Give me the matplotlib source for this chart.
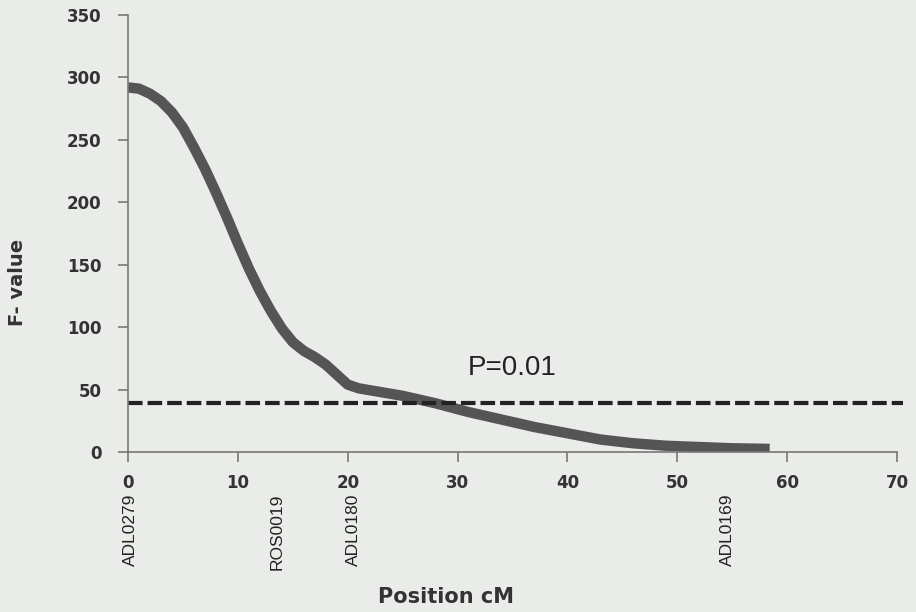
import matplotlib.pyplot as plt

# F-value profile along the chromosome
position_cm = [0, 1, 2, 3, 4, 5, 6, 7, 8, 9, 10, 11, 12, 13, 14, 15, 16, 17,
               18, 19, 20, 21, 23, 25, 28, 31, 34, 37, 40, 43, 46, 49, 52, 55, 58.4]
f_value = [292, 291, 287, 281, 272, 260, 244, 227, 208, 188, 167, 147, 129,
           113, 99, 88, 81, 76, 70, 62, 54, 51, 48, 45, 39, 32, 26, 20, 15,
           10, 7, 5, 4, 3, 2.5]

threshold = 39
threshold_label = "P=0.01"

markers = ["ADL0279", "ROS0019", "ADL0180", "ADL0169"]
marker_pos = [0.2, 13.6, 20.5, 54.6]

x_ticks = [0, 10, 20, 30, 40, 50, 60, 70]
y_ticks = [0, 50, 100, 150, 200, 250, 300, 350]

bg = "#e9ece8"
fig = plt.figure(figsize=(9.16, 6.12), dpi=100, facecolor=bg)
ax = fig.add_axes([0.1397, 0.2614, 0.8397, 0.7141], facecolor=bg)

ax.plot(position_cm, f_value, color="#555555", linewidth=7.5,
        solid_capstyle="butt", solid_joinstyle="round")
ax.plot([0, 70.5], [threshold, threshold], color="#222222", linewidth=3,
        dashes=(3.5, 1.2), clip_on=False)
ax.text(35, 67, threshold_label, fontsize=20, ha="center", va="center",
        family="Liberation Sans", color="#222222")

ax.set_xlim(0, 70)
ax.set_ylim(0, 350)
ax.set_xticks(x_ticks)
ax.set_yticks(y_ticks)
for s in ["top", "right"]:
    ax.spines[s].set_visible(False)
for s in ["left", "bottom"]:
    ax.spines[s].set_color("#777777")
    ax.spines[s].set_linewidth(1.2)
ax.tick_params(direction="out", length=7, width=1.2, color="#777777",
               labelsize=12, labelcolor="#333333")
ax.tick_params(axis="x", pad=9)
ax.tick_params(axis="y", pad=12)
for lbl in ax.get_xticklabels() + ax.get_yticklabels():
    lbl.set_fontweight("bold")
    lbl.set_family("DejaVu Sans")

# marker names under the axis
for name, pos in zip(markers, marker_pos):
    ax.text(pos, -33, name, rotation=90, ha="center", va="top",
            fontsize=12.5, color="#222222", family="Liberation Sans")

fig.text(446 / 916, 1 - 597 / 612, "Position cM", ha="center", va="center",
         fontsize=15, fontweight="bold", color="#333333")
fig.text(18 / 916, 1 - 282 / 612, "F- value", ha="center", va="center",
         rotation=90, fontsize=14, fontweight="bold", color="#333333")

fig.savefig("out.png", dpi=100, facecolor=bg)
